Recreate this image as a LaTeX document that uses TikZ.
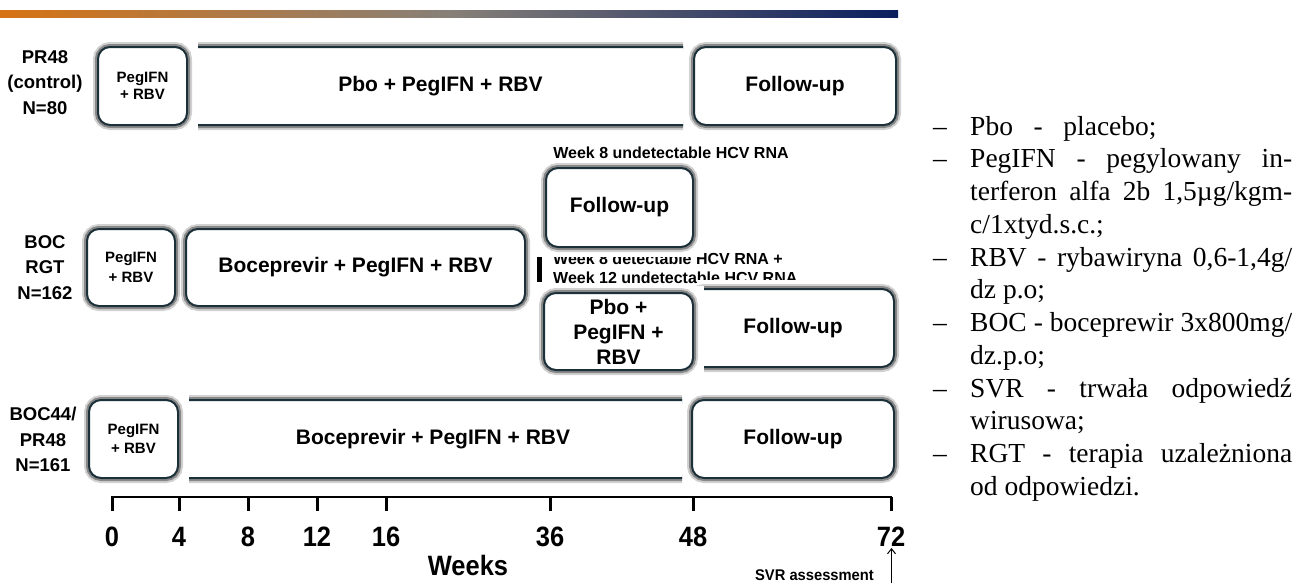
\documentclass[tikz,border=0pt]{standalone}
\usepackage{fontspec}
\usepackage{graphicx}
\setmainfont{Liberation Sans}
\newfontfamily\serifleg{Liberation Serif}
\usetikzlibrary{arrows.meta}
\definecolor{boxline}{RGB}{28,48,58}
\definecolor{barorange}{RGB}{215,115,20}
\definecolor{bargray}{RGB}{135,128,120}
\definecolor{barnavy}{RGB}{10,30,95}
\newcommand{\fsz}[2]{\fontsize{#1}{#2}\selectfont}
\newcommand{\cond}[1]{\scalebox{0.91}[1]{#1}}
\tikzset{
  glowbox/.style={rounded corners=12pt, fill=white, draw=boxline, line width=2pt,
    inner sep=0pt, align=center, font=\bfseries\fsz{21}{25},
    preaction={draw=black, opacity=0.18, line width=10pt},
    preaction={draw=black, opacity=0.35, line width=6pt}},
  smallboxa/.style={font=\bfseries\fsz{15}{16.5}},
  smallboxb/.style={font=\bfseries\fsz{15}{19.5}},
  lab/.style={font=\bfseries\fsz{18.5}{25.5}, align=center, inner sep=0pt},
  note/.style={font=\bfseries\fsz{16}{19}, inner sep=0pt},
  ticklab/.style={font=\bfseries\fsz{28}{30}, inner sep=0pt},
  legtext/.style={font=\serifleg\fsz{27.5}{32}, inner sep=0pt, anchor=base west},
}
\newcommand{\legline}[4]{\node[legtext] (#1) at (970,#2) {\makebox[322pt][#3]{#4}};}
\newcommand{\legdash}[2]{\node[legtext] (#1) at (933,#2) {–};}
\begin{document}
\begin{tikzpicture}[x=1pt,y=-1pt]
\useasboundingbox (0,0) rectangle (1296,584);
% top gradient bar
\shade[left color=barorange, right color=barnavy, middle color=bargray] (0,10) rectangle (898,17);

% ---------- Row 1 ----------
\node[lab] (lab1) at (45,82.5) {PR48\\(control)\\N=80};
\node[glowbox, smallboxa, minimum width=89pt, minimum height=78pt] (p1) at (142.5,86) {PegIFN\\+ RBV};
\begin{scope}
  \clip (198,30) rectangle (683,140);
  \node[glowbox, minimum width=541pt, minimum height=78pt] (b1) at (440.5,86) {Pbo + PegIFN + RBV};
\end{scope}
\node[glowbox, minimum width=202pt, minimum height=78pt] (f1) at (795,86) {Follow-up};

% ---------- Row 2 ----------
\node[lab] (lab2) at (45,267.5) {BOC\\RGT\\N=162};
\node[glowbox, smallboxb, minimum width=88pt, minimum height=77pt] (p2) at (131,267.5) {PegIFN\\+ RBV};
\node[glowbox, minimum width=339pt, minimum height=77pt] (b2) at (355.5,267.5) {Boceprevir + PegIFN + RBV};

\node[note] (wk8u) at (671,153) {Week 8 undetectable HCV RNA};
\node[note, anchor=base west] (wk8d) at (553,264.5) {Week 8 detectable HCV RNA +};
\node[note, anchor=base west] (wk12) at (553,283.5) {Week 12 undetectable HCV RNA};
\fill[white] (540,161) rectangle (700,257);
\node[glowbox, minimum width=147pt, minimum height=79pt] (fu) at (619.5,207.5) {Follow-up};

\coordinate (bartop) at (539.5,257);
\coordinate (barbot) at (539.5,282);
\draw[line width=4.5pt] (bartop) -- (barbot);

\fill[white] (697,279.5) rectangle (900,292);
\node[glowbox, minimum width=202pt, minimum height=78pt] (fr) at (793,328) {Follow-up};
\fill[white] (545,286) rectangle (704,374);
\node[glowbox, minimum width=149pt, minimum height=77pt] (pb) at (618.5,331.5) {Pbo +\\PegIFN +\\RBV};

% ---------- Row 3 ----------
\node[lab] (lab3) at (43,439.5) {BOC44/\\PR48\\N=161};
\node[glowbox, smallboxb, minimum width=89pt, minimum height=78pt] (p3) at (133.5,439) {PegIFN\\+ RBV};
\begin{scope}
  \clip (189,380) rectangle (682,500);
  \node[glowbox, minimum width=521pt, minimum height=78pt] (b3) at (433,439) {Boceprevir + PegIFN + RBV};
\end{scope}
\node[glowbox, minimum width=202pt, minimum height=78pt] (f3) at (793,439) {Follow-up};

% ---------- Axis ----------
\coordinate (a0) at (112,511);
\coordinate (a0t) at (112,497);
\coordinate (a72t) at (891,497);
\coordinate (a72) at (891,511);
\draw[line width=2.5pt] (a0) -- (a0t) -- (a72t) -- (a72);
\foreach \x/\l in {112/0,179/4,248/8,317/12,386/16,550/36,693/48,891/72}{
  \draw[line width=3pt] (\x,497) -- (\x,511);
  \node[ticklab] (t\l) at (\x,537) {\cond{\l}};
}
\node[ticklab] (weeks) at (468,565) {\cond{Weeks}};
\node[font=\bfseries\fsz{15.5}{17}, inner sep=0pt] (svr) at (814.5,575) {\scalebox{0.95}[1]{SVR assessment}};
\coordinate (svrA) at (891.5,583);
\coordinate (svrB) at (891.5,548);
\draw[line width=1pt, -{Straight Barb[length=5pt,width=8pt]}] (svrA) -- (svrB);

% ---------- Legend ----------
\legdash{d1}{135}
\legline{l1}{135}{l}{Pbo\hspace{0.75em}-\hspace{0.75em}placebo;}
\legdash{d2}{167.75}
\legline{l2}{167.75}{s}{PegIFN - pegylowany in-}
\legline{l3}{200.5}{s}{terferon alfa 2b 1,5µg/kgm-}
\legline{l4}{233.25}{l}{c/1xtyd.s.c.;}
\legdash{d5}{266}
\legline{l5}{266}{s}{RBV - rybawiryna 0,6-1,4g/}
\legline{l6}{298.75}{l}{dz p.o;}
\legdash{d7}{331.5}
\legline{l7}{331.5}{s}{BOC - boceprewir 3x800mg/}
\legline{l8}{364.25}{l}{dz.p.o;}
\legdash{d9}{397}
\legline{l9}{397}{s}{SVR - trwała odpowiedź}
\legline{l10}{429.75}{l}{wirusowa;}
\legdash{d11}{462.5}
\legline{l11}{462.5}{s}{RGT - terapia uzależniona}
\legline{l12}{495.25}{l}{od odpowiedzi.}
\end{tikzpicture}
\end{document}
